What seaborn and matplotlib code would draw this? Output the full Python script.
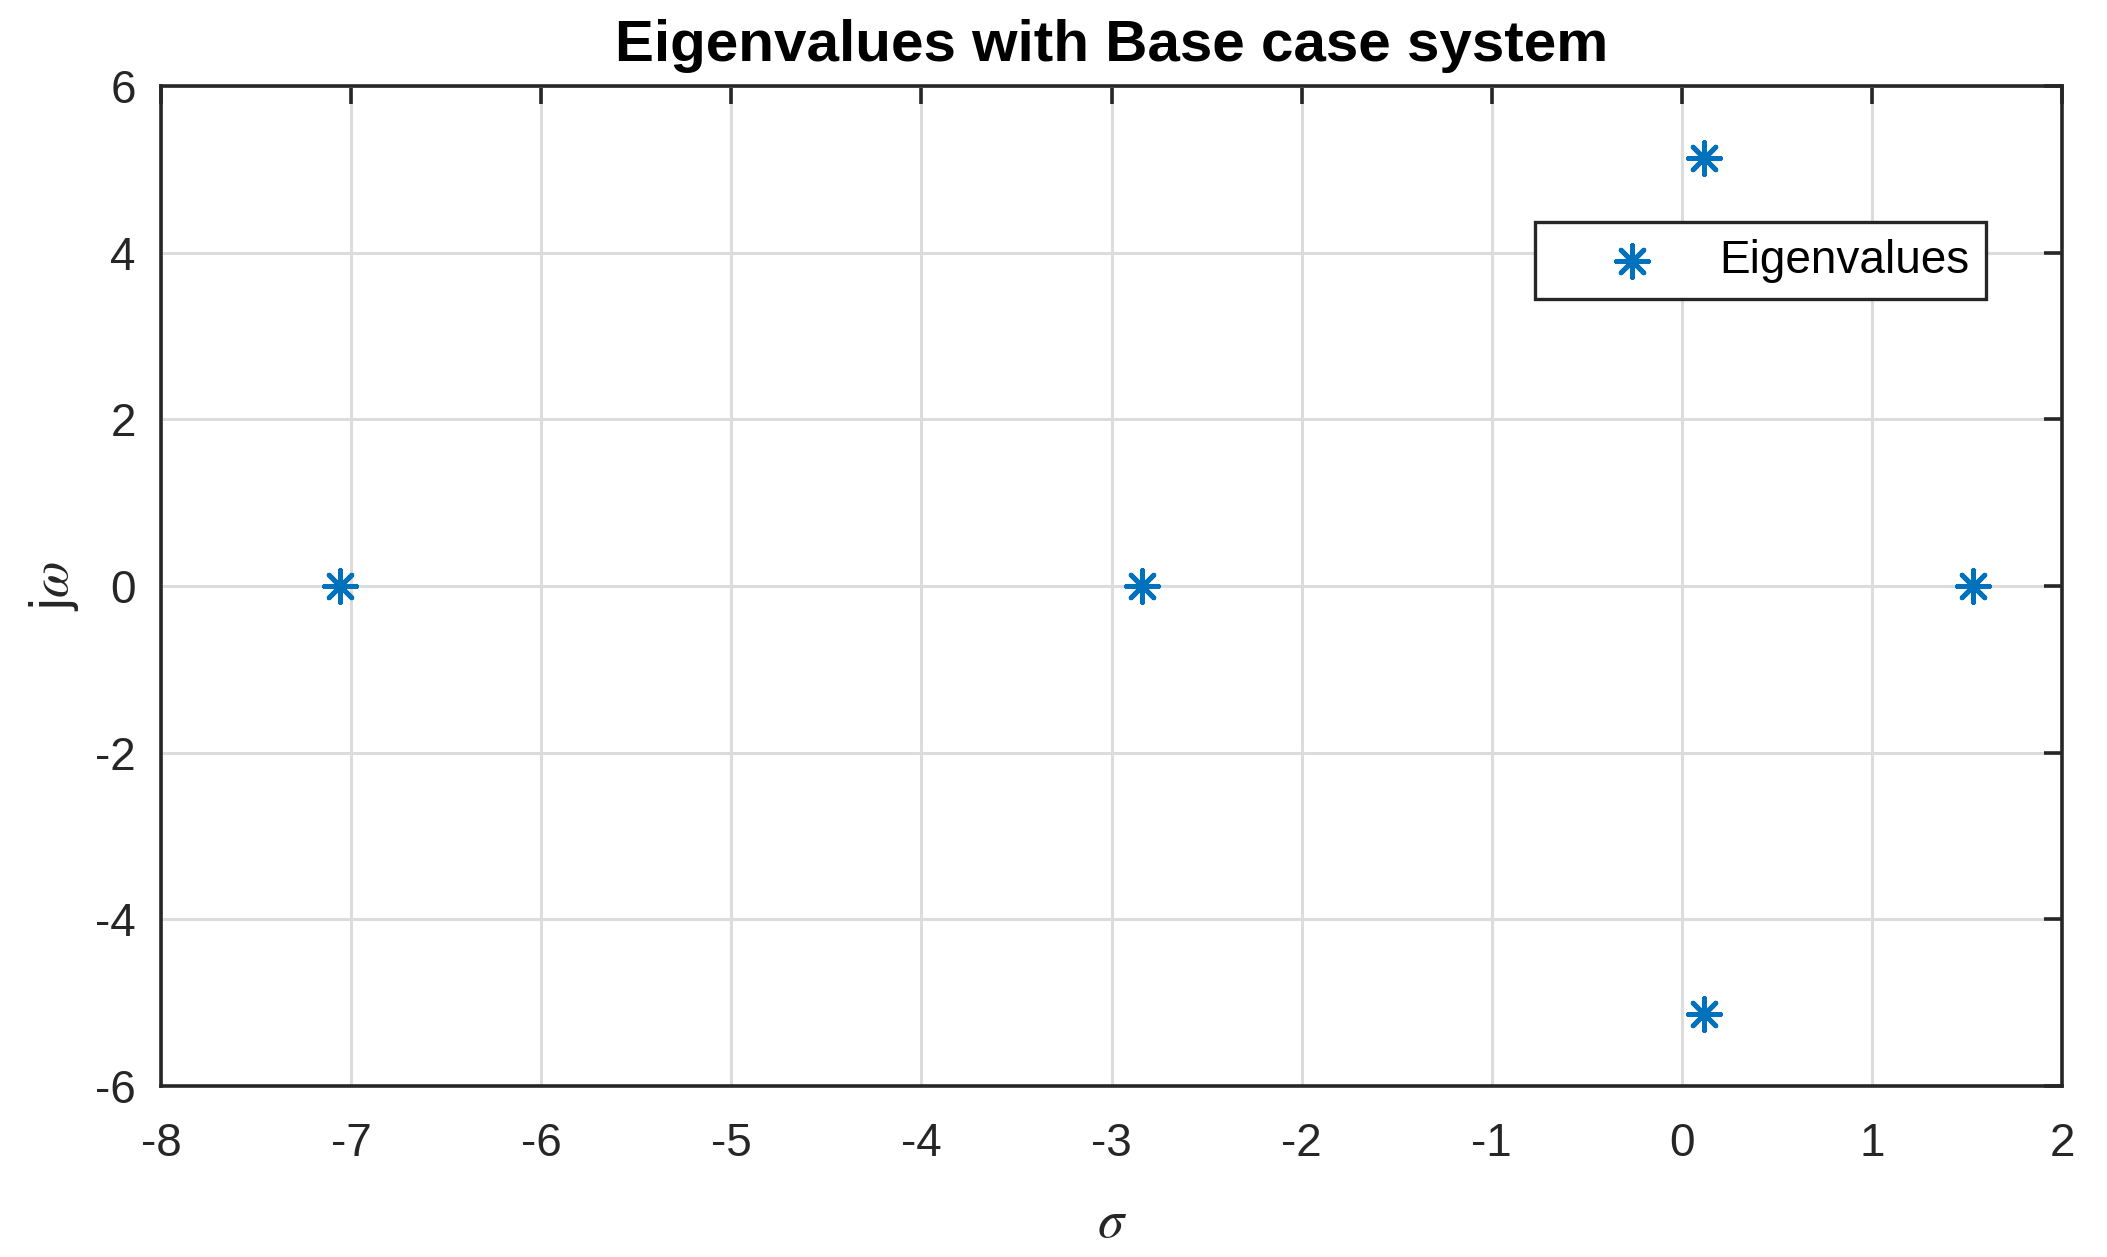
import matplotlib
matplotlib.use('Agg')
import matplotlib.pyplot as plt
import pandas as pd
import seaborn as sns

sigma = [-7.06, -2.84, 0.117, 0.117, 1.533]
omega = [0.0, 0.0, 5.135, -5.135, 0.0]
x_ticks = [-8, -7, -6, -5, -4, -3, -2, -1, 0, 1, 2]
y_ticks = [-6, -4, -2, 0, 2, 4, 6]

sns.set_theme(style='white')
plt.rcParams['font.family'] = ['Liberation Sans', 'DejaVu Sans']
plt.rcParams['mathtext.fontset'] = 'stix'
plt.rcParams['axes.unicode_minus'] = False

df = pd.DataFrame({'sigma': sigma, 'omega': omega})

fig = plt.figure(figsize=(21.07, 12.57), dpi=100)
ax = fig.add_axes([0.0764, 0.136, 0.9023, 0.7955])

sns.scatterplot(data=df, x='sigma', y='omega', marker=(8, 2, 0), s=529,
                color='#0072BD', linewidth=3.5, label='Eigenvalues', ax=ax, zorder=3)

ax.set_xlim(-8, 2)
ax.set_ylim(-6, 6)
ax.set_xticks(x_ticks)
ax.set_yticks(y_ticks)
ax.grid(True, color='#dcdcdc', linewidth=2.2)
ax.set_axisbelow(True)

for sp in ax.spines.values():
    sp.set_linewidth(2.6)
    sp.set_color('#262626')
ax.tick_params(direction='in', length=13, width=2.6, top=True, right=True,
               labelsize=33, colors='#262626')
ax.tick_params(axis='x', pad=26)
ax.tick_params(axis='y', pad=18)

ax.set_title('Eigenvalues with Base case system', fontsize=42, fontweight='bold',
             color='black', pad=18)
ax.set_xlabel(r'$\sigma$', fontsize=38, color='#262626', va='center')
ax.set_ylabel(r'j$\omega$', fontsize=38, color='#262626', va='center')
ax.xaxis.set_label_coords(0.5, -0.137)
ax.yaxis.set_label_coords(-0.0563, 0.5)

leg = ax.legend(loc='upper right', bbox_to_anchor=(0.960, 0.864), borderaxespad=0,
                fontsize=33, fancybox=False, framealpha=1, edgecolor='#262626',
                borderpad=0.36, handlelength=3.5, handletextpad=0.16, labelcolor='black')
leg.get_frame().set_linewidth(2.4)

plt.savefig('out.png', dpi=100)
plt.close()
